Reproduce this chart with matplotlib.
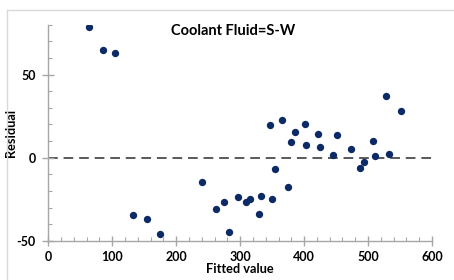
import numpy as np
import matplotlib
matplotlib.use("Agg")
import matplotlib.pyplot as plt
from matplotlib.ticker import MultipleLocator
from matplotlib.lines import Line2D

plt.rcParams["font.family"] = ["Lato", "DejaVu Sans"]
plt.rcParams["axes.unicode_minus"] = False

TITLE = "Coolant Fluid=S-W"

fitted = [63, 85, 105, 133, 155, 175, 241, 262, 275, 282, 296, 309, 315,
          330, 333, 346, 350, 354, 366, 375, 379, 386, 401, 403, 421, 425,
          445, 452, 473, 487, 494, 508, 511, 528, 532, 551]
residual = [79, 65, 63, -34.5, -36.7, -45.8, -14.5, -30.9, -26.5, -44.6, -23.5, -26.9, -25,
            -34.1, -22.9, 19.5, -24.9, -6.8, 22.5, -17.7, 9.3, 15.5, 20.3, 7.7, 14.3, 6.3,
            1.4, 13.7, 5.2, -6, -2.6, 10, 1.2, 37.3, 2, 28.3]

DOT = "#0b2a66"
AXIS_GREY = "#a6a6a6"

fig = plt.figure(figsize=(4.54, 2.8), dpi=100)
ax = fig.add_axes([48.3 / 454, 1 - 240.7 / 280, (432 - 48.3) / 454, (240.7 - 24.9) / 280])

ax.axhline(0, color="#595959", lw=1.4, ls=(0, (5, 3)), zorder=1)
ax.scatter(fitted, residual, s=28, color=DOT, zorder=3, linewidths=0)

ax.set_xlim(0, 600)
ax.set_ylim(-50, 80)
ax.xaxis.set_major_locator(MultipleLocator(100))
ax.xaxis.set_minor_locator(MultipleLocator(20))
ax.yaxis.set_major_locator(MultipleLocator(50))
ax.yaxis.set_minor_locator(MultipleLocator(10))

for s in ("top", "right"):
    ax.spines[s].set_visible(False)
for s in ("left", "bottom"):
    ax.spines[s].set_color(AXIS_GREY)
    ax.spines[s].set_linewidth(1.0)

ax.tick_params(which="major", direction="inout", length=7, width=1, color=AXIS_GREY,
               labelsize=9, pad=4)
ax.tick_params(which="minor", direction="in", length=3, width=0.8, color=AXIS_GREY)
ax.tick_params(axis="y", which="major", length=8, pad=5)
for lbl in ax.get_xticklabels() + ax.get_yticklabels():
    lbl.set_fontweight("bold")

ax.set_xlabel("Fitted value", fontsize=9.2, fontweight="bold", labelpad=0)
ax.set_ylabel("Residual", fontsize=9.2, fontweight="bold")
ax.yaxis.set_label_coords((17 - 48.3) / 383.7, 0.5)

fig.text(233 / 454, 1 - 31 / 280, TITLE, ha="center", va="center",
         fontsize=10.5, fontweight="bold")

# outer frame (top and left edges visible)
fig.add_artist(Line2D([6.5 / 454, 1], [1 - 9.5 / 280, 1 - 9.5 / 280],
                      transform=fig.transFigure, color="#d9d9d9", lw=1))
fig.add_artist(Line2D([6.5 / 454, 6.5 / 454], [0, 1 - 9.5 / 280],
                      transform=fig.transFigure, color="#d9d9d9", lw=1))

fig.savefig("out.png", dpi=100)
plt.close(fig)
